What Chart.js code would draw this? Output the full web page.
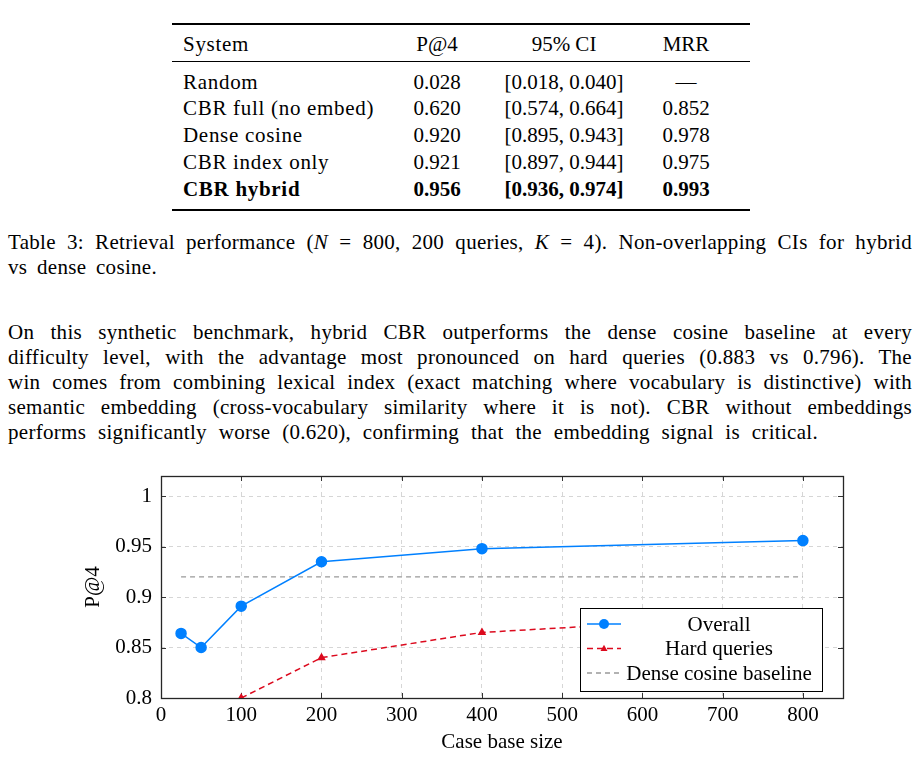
<!DOCTYPE html>
<html>
<head>
<meta charset="utf-8">
<script src="https://cdn.jsdelivr.net/npm/chart.js@4.4.1/dist/chart.umd.min.js"></script>
<style>
  body { margin: 0; width: 920px; height: 757px; background: #fff; overflow: hidden; position: relative;
         font-family: "Liberation Serif", "Times New Roman", serif; color: #000; }
  .rule { position: absolute; left: 172px; width: 578px; background: #000; }
  .row { position: absolute; left: 172px; width: 578px; height: 26px; line-height: 26px; font-size: 21px; }
  .row span { position: absolute; top: 0; white-space: nowrap; }
  .c1 { left: 11px; letter-spacing: 0.7px; }
  .c2 { left: 265px; width: 0; display: flex; justify-content: center; }
  .c3 { left: 392px; width: 0; display: flex; justify-content: center; }
  .c4 { left: 514px; width: 0; display: flex; justify-content: center; }
  .b { font-weight: bold; }
  .line { position: absolute; left: 8px; width: 904px; font-size: 21px; height: 25px; line-height: 25px; white-space: nowrap; letter-spacing: 0.3px; }
  .just { text-align: justify; text-align-last: justify; }
  #wrap { position: absolute; left: 60px; top: 460px; width: 800px; height: 297px; }
</style>
</head>
<body>
<div class="rule" style="top:23px;height:2px"></div>
<div class="row" style="top:31px"><span class="c1">System</span><span class="c2">P@4</span><span class="c3">95% CI</span><span class="c4">MRR</span></div>
<div class="rule" style="top:61px;height:1px"></div>
<div class="row" style="top:69px"><span class="c1">Random</span><span class="c2">0.028</span><span class="c3">[0.018, 0.040]</span><span class="c4">—</span></div>
<div class="row" style="top:95px"><span class="c1">CBR full (no embed)</span><span class="c2">0.620</span><span class="c3">[0.574, 0.664]</span><span class="c4">0.852</span></div>
<div class="row" style="top:122px"><span class="c1">Dense cosine</span><span class="c2">0.920</span><span class="c3">[0.895, 0.943]</span><span class="c4">0.978</span></div>
<div class="row" style="top:149px"><span class="c1">CBR index only</span><span class="c2">0.921</span><span class="c3">[0.897, 0.944]</span><span class="c4">0.975</span></div>
<div class="row b" style="top:176px"><span class="c1">CBR hybrid</span><span class="c2">0.956</span><span class="c3">[0.936, 0.974]</span><span class="c4">0.993</span></div>
<div class="rule" style="top:209px;height:2px"></div>

<div class="line just" style="top:230px">Table 3: Retrieval performance (<i>N</i> = 800, 200 queries, <i>K</i> = 4). Non-overlapping CIs for hybrid</div>
<div class="line just" style="top:255px;width:149px">vs dense cosine.</div>

<div class="line just" style="top:320px">On this synthetic benchmark, hybrid CBR outperforms the dense cosine baseline at every</div>
<div class="line just" style="top:345px">difficulty level, with the advantage most pronounced on hard queries (0.883 vs 0.796). The</div>
<div class="line just" style="top:370px">win comes from combining lexical index (exact matching where vocabulary is distinctive) with</div>
<div class="line just" style="top:395px">semantic embedding (cross-vocabulary similarity where it is not). CBR without embeddings</div>
<div class="line just" style="top:420px;width:810px">performs significantly worse (0.620), confirming that the embedding signal is critical.</div>

<div id="wrap"><canvas id="myChart" width="800" height="297"></canvas></div>

<script>
// case base sizes and P@4 values
const overallX = [25, 50, 100, 200, 400, 800];
const overallY = [0.864, 0.850, 0.891, 0.935, 0.948, 0.956];
const hardX = [100, 200, 400, 800];
const hardY = [0.800, 0.840, 0.865, 0.883];
const baselineX = [25, 800];
const baselineY = [0.920, 0.920];
const xTicks = [0, 100, 200, 300, 400, 500, 600, 700, 800];
const yTicks = [0.8, 0.85, 0.9, 0.95, 1];
const yTickLabels = ['0.8', '0.85', '0.9', '0.95', '1'];

const FONT = '"Liberation Serif", "Times New Roman", serif';
const BLUE = '#0080ff';
const RED = '#dc0a1e';
const GRAY = '#999999';

function pts(xs, ys) {
    return xs.map((x, i) => ({ x: x, y: ys[i] }));
}

// pgfplots style box with inward ticks
const boxPlugin = {
    id: 'box',
    beforeDatasetsDraw(chart) {
        const { ctx, chartArea: a, scales } = chart;
        ctx.save();
        ctx.strokeStyle = '#333';
        ctx.lineWidth = 1;
        xTicks.forEach(v => {
            const px = Math.round(scales.x.getPixelForValue(v)) + 0.5;
            ctx.beginPath();
            ctx.moveTo(px, a.bottom); ctx.lineTo(px, a.bottom - 5);
            ctx.moveTo(px, a.top); ctx.lineTo(px, a.top + 5);
            ctx.stroke();
        });
        yTicks.forEach(v => {
            const py = Math.round(scales.y.getPixelForValue(v)) + 0.5;
            ctx.beginPath();
            ctx.moveTo(a.left, py); ctx.lineTo(a.left + 5, py);
            ctx.moveTo(a.right, py); ctx.lineTo(a.right - 5, py);
            ctx.stroke();
        });
        ctx.lineWidth = 1.3;
        ctx.strokeStyle = '#262626';
        ctx.strokeRect(Math.round(a.left) + 0.5, Math.round(a.top) + 0.5,
            Math.round(a.right - a.left), Math.round(a.bottom - a.top));
        ctx.restore();
    }
};

// legend box inside the plot, lower right
const legendPlugin = {
    id: 'boxLegend',
    afterDatasetsDraw(chart) {
        const { ctx, chartArea: a } = chart;
        const w = 242, h = 83;
        const x0 = a.right - 21 - w, y0 = a.bottom - 7 - h;
        ctx.save();
        ctx.fillStyle = '#fff';
        ctx.fillRect(x0, y0, w, h);
        ctx.strokeStyle = '#000';
        ctx.lineWidth = 1;
        ctx.strokeRect(Math.round(x0) + 0.5, Math.round(y0) + 0.5, w, h);
        ctx.font = '21px ' + FONT;
        ctx.textAlign = 'center';
        ctx.textBaseline = 'middle';
        chart.data.datasets.forEach((ds, i) => {
            const cy = y0 + 16 + i * 24.5;
            const lx = x0 + 7, rx = x0 + 41;
            ctx.strokeStyle = ds.borderColor;
            ctx.lineWidth = ds.borderWidth;
            ctx.setLineDash(ds.borderDash || []);
            ctx.beginPath();
            ctx.moveTo(lx, cy); ctx.lineTo(rx, cy);
            ctx.stroke();
            ctx.setLineDash([]);
            if (ds.pointRadius > 0) {
                ctx.fillStyle = ds.pointBackgroundColor;
                const mx = (lx + rx) / 2, r = ds.pointRadius;
                ctx.beginPath();
                if (ds.pointStyle === 'triangle') {
                    ctx.moveTo(mx, cy - r * 1.1);
                    ctx.lineTo(mx + r, cy + r * 0.7);
                    ctx.lineTo(mx - r, cy + r * 0.7);
                    ctx.closePath();
                } else {
                    ctx.arc(mx, cy, r, 0, Math.PI * 2);
                }
                ctx.fill();
            }
            ctx.fillStyle = '#000';
            ctx.fillText(ds.label, x0 + 139, cy + 1);
        });
        ctx.restore();
    }
};

const ctx = document.getElementById('myChart');

new Chart(ctx, {
    type: 'line',
    data: {
        datasets: [{
            label: 'Overall',
            data: pts(overallX, overallY),
            borderColor: BLUE,
            backgroundColor: BLUE,
            pointBackgroundColor: BLUE,
            pointBorderColor: BLUE,
            borderWidth: 1.5,
            pointRadius: 5,
            pointStyle: 'circle'
        }, {
            label: 'Hard queries',
            data: pts(hardX, hardY),
            borderColor: RED,
            backgroundColor: RED,
            pointBackgroundColor: RED,
            pointBorderColor: RED,
            borderWidth: 1.5,
            borderDash: [6, 4],
            pointRadius: 3.5,
            pointStyle: 'triangle'
        }, {
            label: 'Dense cosine baseline',
            data: pts(baselineX, baselineY),
            borderColor: GRAY,
            borderWidth: 1.4,
            borderDash: [5, 4],
            pointRadius: 0
        }]
    },
    options: {
        responsive: false,
        animation: false,
        devicePixelRatio: 1,
        layout: { padding: { top: 16, right: 17, left: 0, bottom: 0 } },
        plugins: { legend: { display: false }, tooltip: { enabled: false } },
        elements: { line: { tension: 0 } },
        scales: {
            x: {
                type: 'linear',
                min: 0,
                max: 850,
                afterBuildTicks: s => { s.ticks = xTicks.map(v => ({ value: v })); },
                afterFit: s => { s.height = 59; s.paddingLeft = 0; s.paddingRight = 0; },
                grid: { color: '#d6d6d6', lineWidth: 1, drawTicks: false },
                border: { display: false, dash: [4, 4] },
                ticks: { color: '#000', padding: 5, font: { family: FONT, size: 21 }, maxRotation: 0 },
                title: { display: true, text: 'Case base size', color: '#000', font: { family: FONT, size: 21 }, padding: { top: 0, bottom: 2 } }
            },
            y: {
                type: 'linear',
                min: 0.8,
                max: 1.02,
                afterBuildTicks: s => { s.ticks = yTicks.map(v => ({ value: v })); },
                afterFit: s => { s.width = 101; s.paddingTop = 0; s.paddingBottom = 0; },
                grid: { color: '#d6d6d6', lineWidth: 1, drawTicks: false },
                border: { display: false, dash: [4, 4] },
                ticks: {
                    color: '#000', padding: 9, font: { family: FONT, size: 21 },
                    callback: v => yTickLabels[yTicks.findIndex(t => Math.abs(t - v) < 1e-9)]
                },
                title: { display: true, text: 'P@4', color: '#000', font: { family: FONT, size: 21 }, padding: { top: 21, bottom: 0 } }
            }
        }
    },
    plugins: [boxPlugin, legendPlugin]
});
</script>
</body>
</html>
